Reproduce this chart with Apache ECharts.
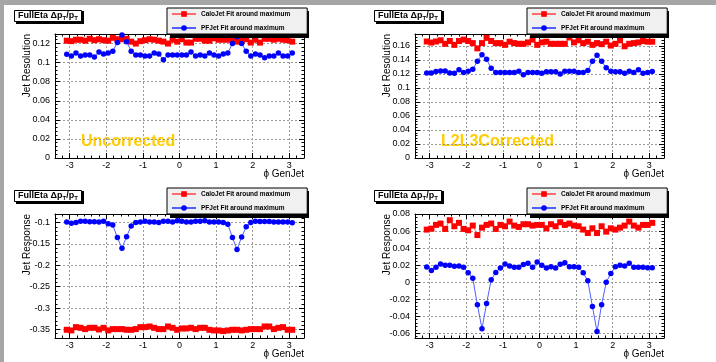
<!DOCTYPE html>
<html>
<head>
<meta charset="utf-8">
<script src="https://cdn.jsdelivr.net/npm/echarts@6/dist/echarts.min.js"></script>
<style>
html, body { margin: 0; padding: 0; background: #fff; }
#main { width: 716px; height: 362px; }
</style>
</head>
<body>
<div id="main"></div>
<script>
// legend names
const CALO = 'CaloJet Fit around maximum';
const PF = 'PFJet Fit around maximum';

// 50 phi bins over [-pi, pi], values at bin centres
const PHI = Array.from({length: 50}, (_, k) => -Math.PI + (k + 0.5) * 2 * Math.PI / 50);

// Uncorrected, resolution
const resUncCalo = [0.123,0.1225,0.124,0.124,0.123,0.125,0.1235,0.1245,0.1235,0.123,
  0.126,0.1245,0.1245,0.125,0.122,0.120,0.1225,0.1235,0.1245,0.124,
  0.123,0.122,0.120,0.124,0.122,0.1245,0.121,0.121,0.125,0.125,
  0.123,0.123,0.1255,0.124,0.124,0.124,0.125,0.122,0.123,0.1245,
  0.121,0.124,0.121,0.125,0.125,0.124,0.125,0.124,0.1235,0.122];
const resUncPF = [0.1088,0.107,0.110,0.107,0.108,0.108,0.106,0.111,0.109,0.110,
  0.112,0.121,0.129,0.122,0.112,0.108,0.108,0.107,0.107,0.110,
  0.109,0.103,0.108,0.108,0.108,0.108,0.108,0.111,0.107,0.108,
  0.107,0.110,0.108,0.107,0.109,0.110,0.120,0.127,0.120,0.112,
  0.107,0.109,0.108,0.105,0.107,0.107,0.110,0.107,0.107,0.110];

// L2L3 corrected, resolution
const resCorCalo = [0.1663,0.1648,0.1663,0.168,0.163,0.167,0.1615,0.167,0.169,0.167,
  0.164,0.1565,0.164,0.1715,0.167,0.164,0.164,0.1615,0.166,0.164,
  0.163,0.163,0.165,0.169,0.1615,0.165,0.166,0.163,0.163,0.163,
  0.163,0.172,0.165,0.168,0.164,0.166,0.1615,0.164,0.1625,0.166,
  0.1605,0.163,0.168,0.1595,0.163,0.164,0.165,0.167,0.166,0.166];
const resCorPF = [0.1214,0.1214,0.1234,0.1243,0.1243,0.1214,0.121,0.126,0.122,0.124,
  0.1267,0.138,0.1475,0.141,0.128,0.122,0.122,0.122,0.122,0.122,
  0.124,0.119,0.122,0.122,0.122,0.121,0.123,0.123,0.123,0.120,
  0.124,0.124,0.124,0.122,0.122,0.125,0.138,0.1465,0.138,0.129,
  0.124,0.123,0.123,0.121,0.124,0.122,0.1258,0.121,0.122,0.1234];

// Uncorrected, response
const rspUncCalo = [-0.3508,-0.3523,-0.3446,-0.3462,-0.3492,-0.3462,-0.3462,-0.35,-0.3462,-0.3523,
  -0.3492,-0.3492,-0.3492,-0.3508,-0.3508,-0.3492,-0.3446,-0.3446,-0.3431,-0.3462,
  -0.3492,-0.3492,-0.3431,-0.3462,-0.3508,-0.3477,-0.3477,-0.3462,-0.3492,-0.3462,
  -0.3462,-0.3508,-0.3523,-0.3523,-0.3538,-0.3523,-0.3508,-0.3508,-0.3523,-0.3508,
  -0.3492,-0.3492,-0.3492,-0.3431,-0.3431,-0.3492,-0.3462,-0.3446,-0.3508,-0.3508];
const rspUncPF = [-0.099,-0.1015,-0.100,-0.097,-0.097,-0.098,-0.098,-0.099,-0.097,-0.103,
  -0.106,-0.135,-0.160,-0.133,-0.108,-0.100,-0.0985,-0.097,-0.0985,-0.0985,
  -0.100,-0.097,-0.097,-0.0985,-0.0955,-0.097,-0.0985,-0.0985,-0.097,-0.097,
  -0.0955,-0.0985,-0.0985,-0.0985,-0.100,-0.104,-0.135,-0.163,-0.134,-0.110,
  -0.100,-0.097,-0.0975,-0.0975,-0.0975,-0.099,-0.099,-0.099,-0.099,-0.1005];

// L2L3 corrected, response
const rspCorCalo = [0.0617,0.0628,0.0672,0.0688,0.0625,0.0727,0.0656,0.0696,0.0625,0.0609,
  0.0664,0.0553,0.064,0.0672,0.0688,0.0625,0.0672,0.0656,0.0711,0.0664,
  0.0648,0.068,0.068,0.0664,0.0672,0.0672,0.0632,0.068,0.0656,0.0703,
  0.0672,0.0688,0.0664,0.0656,0.0617,0.0577,0.0632,0.0577,0.0656,0.0593,
  0.0632,0.0617,0.064,0.0664,0.0711,0.0664,0.064,0.0672,0.0672,0.0696];
const rspCorPF = [0.0178,0.0138,0.0174,0.0213,0.0198,0.0198,0.0186,0.019,0.0174,0.011,
  0.0047,-0.0265,-0.0545,-0.025,0.0028,0.0115,0.0166,0.0213,0.019,0.0174,
  0.0174,0.0206,0.0221,0.0174,0.0237,0.0198,0.0166,0.0182,0.0166,0.0209,
  0.0229,0.0182,0.0182,0.0174,0.011,0.0016,-0.0285,-0.058,-0.0265,0.0,
  0.0103,0.0182,0.0198,0.019,0.0221,0.0174,0.0174,0.0174,0.017,0.017];

const FONT = 'Liberation Sans';

// panel layout (top-left, top-right, bottom-left, bottom-right)
const panels = [
  {left: 55,  top: 34,  ymin: 0,      ymax: 0.13,  split: 7, showMin: true,  showMax: false,
   yName: 'Jet Resolution', tag: 'Uncorrected',   calo: resUncCalo, pf: resUncPF},
  {left: 415, top: 34,  ymin: 0,      ymax: 0.177, split: 9, showMin: true,  showMax: false,
   yName: 'Jet Resolution', tag: 'L2L3Corrected', calo: resCorCalo, pf: resCorPF},
  {left: 55,  top: 214, ymin: -0.37,  ymax: -0.08, split: 6, showMin: false, showMax: false,
   yName: 'Jet Response', tag: null, calo: rspUncCalo, pf: rspUncPF},
  {left: 415, top: 214, ymin: -0.0655, ymax: 0.08, split: 7, showMin: false, showMax: true,
   yName: 'Jet Response', tag: null, calo: rspCorCalo, pf: rspCorPF}
];
const W = 249, H = 124;
const LEG_W = 139, LEG_H = 27;

function ticks() {
  return {
    axisLine: {show: true, onZero: false, lineStyle: {color: '#000', width: 1}},
    axisTick: {show: true, inside: true, length: 5, lineStyle: {color: '#000'}},
    minorTick: {show: true, splitNumber: 5, length: 2.5, lineStyle: {color: '#000'}}
  };
}

const grid = [], xAxis = [], yAxis = [], series = [], legend = [], title = [], graphic = [];

graphic.push({type: 'rect', shape: {x: 0, y: 0, width: 716, height: 5}, style: {fill: '#a6a6a6'}, z: 100});
graphic.push({type: 'rect', shape: {x: 0, y: 0, width: 4, height: 362}, style: {fill: '#a6a6a6'}, z: 100});

panels.forEach(function (p, i) {
  grid.push({left: p.left, top: p.top, width: W, height: H, containLabel: false});

  // bottom x axis
  xAxis.push(Object.assign({
    type: 'value', gridIndex: i, min: -3.4, max: 3.4, splitNumber: 7,
    axisLabel: {show: true, color: '#000', fontSize: 9, fontFamily: FONT, margin: 3,
      showMinLabel: false, showMaxLabel: false},
    splitLine: {show: true, lineStyle: {color: '#9a9a9a', type: [2, 2], width: 1}}
  }, ticks()));
  // left y axis
  yAxis.push(Object.assign({
    type: 'value', gridIndex: i, min: p.ymin, max: p.ymax, splitNumber: p.split,
    axisLabel: {show: true, color: '#000', fontSize: 9, fontFamily: FONT, margin: 5,
      showMinLabel: p.showMin, showMaxLabel: p.showMax},
    splitLine: {show: true, lineStyle: {color: '#9a9a9a', type: [2, 2], width: 1}}
  }, ticks()));

  series.push({
    name: CALO, type: 'line', xAxisIndex: i, yAxisIndex: i,
    data: PHI.map((x, k) => [x, p.calo[k]]),
    symbol: 'rect', symbolSize: 6,
    itemStyle: {color: '#ff0000'},
    lineStyle: {color: '#ff6a6a', width: 1},
    silent: true, z: 3
  });
  series.push({
    name: PF, type: 'line', xAxisIndex: i, yAxisIndex: i,
    data: PHI.map((x, k) => [x, p.pf[k]]),
    symbol: 'circle', symbolSize: 5.5,
    itemStyle: {color: '#0000ff'},
    lineStyle: {color: '#5060ff', width: 1},
    silent: true, z: 3
  });

  const lx = p.left + 112, ly = p.top - 26;
  legend.push({
    data: [CALO, PF], orient: 'vertical', left: lx, top: ly,
    itemWidth: 24, itemHeight: 7, itemGap: 7, padding: [2.5, 17, 2.5, 4],
    backgroundColor: '#f0f0f0', borderColor: '#000', borderWidth: 1,
    selectedMode: false, z: 10,
    textStyle: {fontSize: 6.5, fontWeight: 'bold', fontFamily: FONT, color: '#000', lineHeight: 7}
  });
  // hard drop shadow of the legend box
  graphic.push({type: 'rect', shape: {x: lx + 3, y: ly + 3, width: LEG_W, height: LEG_H},
    style: {fill: '#000'}, z: 9, silent: true});

  const tx = p.left - 41, ty = p.top - 25;
  title.push({
    text: '{b|FullEta Δp}{s|T}{b|/p}{s|T}',
    left: tx, top: ty,
    padding: [1, 4, 1, 4],
    backgroundColor: '#fff', borderColor: '#000', borderWidth: 1, z: 10,
    textStyle: {
      rich: {
        b: {fontSize: 9, fontWeight: 'bold', fontFamily: FONT, color: '#000', lineHeight: 11, verticalAlign: 'middle'},
        s: {fontSize: 6, fontWeight: 'bold', fontFamily: FONT, color: '#000', lineHeight: 5, verticalAlign: 'bottom'}
      }
    }
  });
  graphic.push({type: 'rect', shape: {x: tx + 2, y: ty + 2, width: 68, height: 13},
    style: {fill: '#000'}, z: 9, silent: true});

  // y title, rotated, top-aligned to the frame
  graphic.push({
    type: 'text', x: p.left - 28, y: p.top, rotation: Math.PI / 2,
    style: {text: p.yName, fontSize: 10, fontFamily: FONT, fill: '#000', align: 'right', verticalAlign: 'middle'}
  });
  // x title, right-aligned to the frame
  graphic.push({
    type: 'text', x: p.left + W, y: p.top + H + 16,
    style: {text: 'ϕ GenJet', fontSize: 10, fontFamily: FONT, fill: '#000', align: 'right', verticalAlign: 'middle'}
  });
  if (p.tag) {
    graphic.push({
      type: 'text', x: p.left + 26, y: p.top + 108,
      style: {text: p.tag, fontSize: 16, fontWeight: 'bold', fontFamily: FONT, fill: '#ffcc00', align: 'left', verticalAlign: 'middle'}
    });
  }
});

// top and right frame axes (ticks only)
panels.forEach(function (p, i) {
  xAxis.push(Object.assign({
    type: 'value', gridIndex: i, position: 'top', min: -3.4, max: 3.4, splitNumber: 7,
    axisLabel: {show: false}, splitLine: {show: false}
  }, ticks()));
  yAxis.push(Object.assign({
    type: 'value', gridIndex: i, position: 'right', min: p.ymin, max: p.ymax, splitNumber: p.split,
    axisLabel: {show: false}, splitLine: {show: false}
  }, ticks()));
});

const chart = echarts.init(document.getElementById('main'), null, {renderer: 'canvas'});
chart.setOption({
  animation: false,
  backgroundColor: '#fff',
  title: title,
  legend: legend,
  grid: grid,
  xAxis: xAxis,
  yAxis: yAxis,
  series: series,
  graphic: graphic
});
</script>
</body>
</html>
